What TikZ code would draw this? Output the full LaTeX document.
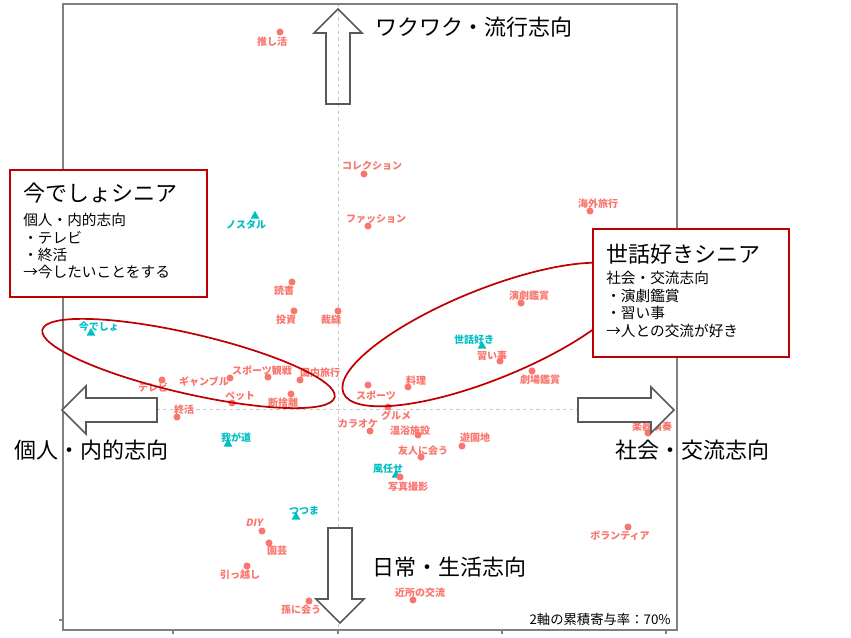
\documentclass[tikz,border=0pt]{standalone}
\usepackage{fontspec}
\setmainfont{Noto Sans CJK JP}
\newfontfamily\jp{Noto Sans CJK JP}
\newfontfamily\jpit[FakeSlant=0.2]{Noto Sans CJK JP}
\usetikzlibrary{shapes.geometric}
\definecolor{ptc}{HTML}{F8766D}
\definecolor{trc}{HTML}{00BFC4}
\definecolor{boxred}{HTML}{C00000}
\definecolor{arrgray}{HTML}{595959}
\definecolor{panelgray}{HTML}{808080}
\definecolor{dashgray}{HTML}{C8C8C8}
\tikzset{
  dot/.style={circle, fill=ptc, inner sep=0pt, minimum size=5.3pt},
  tri/.style={regular polygon, regular polygon sides=3, fill=trc, inner sep=0pt, minimum size=7.6pt},
  lab/.style={text=ptc, font=\jp\fontsize{7.5}{8}\selectfont\bfseries, inner sep=0pt},
  tlab/.style={text=trc, font=\jp\fontsize{7.5}{8}\selectfont\bfseries, inner sep=0pt},
  bigarrow/.style={draw=arrgray, line width=1.2pt, line join=miter},
  axtext/.style={font=\jp\fontsize{16.5}{18}\selectfont, anchor=west, inner sep=0pt, text=black},
  boxframe/.style={draw=boxred, line width=1.2pt, fill=white},
  boxtitle/.style={font=\jp\fontsize{16.5}{18}\selectfont, anchor=west, inner sep=0pt},
  boxline/.style={font=\jp\fontsize{11}{12}\selectfont, anchor=west, inner sep=0pt},
  grp/.style={draw=boxred, line width=1.3pt},
  guide/.style={draw=dashgray, line width=0.6pt, dash pattern=on 2.5pt off 2.5pt}
}
\begin{document}
\begin{tikzpicture}[x=0.75pt,y=-0.75pt]
\useasboundingbox (0,0) rectangle (851,637);
% panel
\coordinate (vtop) at (338,4);
\coordinate (vbot) at (338,630);
\coordinate (hl) at (63,409);
\coordinate (hr) at (677,409);
\draw[guide] (vtop) -- (vbot);
\draw[guide] (hl) -- (hr);
\draw[panelgray, line width=0.9pt] (63,4) rectangle (677,630);
\foreach \tx in {173,338,502,666} {\draw[panelgray, line width=0.9pt] (\tx,630) -- (\tx,634);}
\draw[panelgray, line width=0.9pt] (59,620) -- (63,620);

% points
\node[dot] (oshi) at (280,32) {};
\node[dot] (coll) at (364,174) {};
\node[dot] (fash) at (368,226) {};
\node[tri] (nost) at (255,216) {};
\node[dot] (doku) at (292,282) {};
\node[dot] (toushi) at (294,311) {};
\node[dot] (saihou) at (338,311) {};
\node[dot] (kaigai) at (590,211) {};
\node[dot] (engeki) at (521,303) {};
\node[tri] (sewa) at (482,346) {};
\node[dot] (narai) at (500,361) {};
\node[dot] (gekijo) at (532,371) {};
\node[dot] (ryori) at (408,387) {};
\node[dot] (sports) at (368,385) {};
\node[dot] (gurume) at (388,407) {};
\node[dot] (karaoke) at (370,431) {};
\node[dot] (onyoku) at (418,435) {};
\node[dot] (yuuen) at (462,446) {};
\node[dot] (yujin) at (421,457) {};
\node[tri] (kaze) at (396,475) {};
\node[dot] (shashin) at (400,477) {};
\node[dot] (gakki) at (648,433) {};
\node[dot] (vol) at (628,527) {};
\node[dot] (kinjo) at (413,600) {};
\node[dot] (mago) at (309,601) {};
\node[dot] (hikkoshi) at (247,566) {};
\node[dot] (engei) at (269,543) {};
\node[dot] (diy) at (262,531) {};
\node[tri] (tsuma) at (296,517) {};
\node[tri] (waga) at (228,444) {};
\node[dot] (shukatsu) at (177,417) {};
\node[dot] (tv) at (162,380) {};
\node[dot] (gamble) at (230,378) {};
\node[dot] (sportsk) at (268,377) {};
\node[dot] (kokunai) at (300,380) {};
\node[dot] (pet) at (232,403) {};
\node[dot] (danshari) at (291,394) {};
\node[tri] (imadesho) at (91,333) {};

% labels
\node[lab] (loshi) at (272,42) {推し活};
\node[lab] (lcoll) at (372,166) {コレクション};
\node[lab] (lfash) at (376,219) {ファッション};
\node[tlab] (lnost) at (246,225) {ノスタル};
\node[lab] (ldoku) at (284,291) {読書};
\node[lab] (ltoushi) at (286,320) {投資};
\node[lab] (lsaihou) at (331,320) {裁縫};
\node[lab] (lkaigai) at (598,204) {海外旅行};
\node[lab] (lengeki) at (529,296) {演劇鑑賞};
\node[tlab] (lsewa) at (474,340) {世話好き};
\node[lab] (lnarai) at (492,356) {習い事};
\node[lab] (lgekijo) at (540,380) {劇場鑑賞};
\node[lab] (lryori) at (416,381) {料理};
\node[lab] (lsports) at (376,395) {スポーツ};
\node[lab] (lgurume) at (396,416) {グルメ};
\node[lab] (lkaraoke) at (358,424) {カラオケ};
\node[lab] (lonyoku) at (410,431) {温浴施設};
\node[lab] (lyuuen) at (475,438) {遊園地};
\node[lab] (lyujin) at (423,451) {友人に会う};
\node[tlab] (lkaze) at (388,469) {風任せ};
\node[lab] (lshashin) at (408,487) {写真撮影};
\node[lab] (lgakki) at (652,427) {楽器演奏};
\node[lab] (lvol) at (620,536) {ボランティア};
\node[lab] (lkinjo) at (420,593) {近所の交流};
\node[lab] (lmago) at (301,610) {孫に会う};
\node[lab] (lhikkoshi) at (240,575) {引っ越し};
\node[lab] (lengei) at (277,551) {園芸};
\node[lab, font=\jpit\fontsize{7.5}{8}\selectfont\bfseries] (ldiy) at (254,523) {DIY};
\node[tlab] (ltsuma) at (304,511) {つつま};
\node[tlab] (lwaga) at (236,438) {我が道};
\node[lab] (lshukatsu) at (184,410) {終活};
\node[lab] (ltv) at (153,388) {テレビ};
\node[lab] (lgamble) at (204,382) {ギャンブル};
\node[lab] (lsportsk) at (262,371) {スポーツ観戦};
\node[lab] (lkokunai) at (320,373) {国内旅行};
\node[lab] (lpet) at (240,396) {ペット};
\node[lab] (ldanshari) at (283,403) {断捨離};
\node[tlab] (limadesho) at (99,327) {今でしょ};

% group ellipses
\coordinate (e1) at (188.5,363.5);
\coordinate (e2) at (488,334.5);
\draw[grp, rotate around={-13:(e1)}] (e1) ellipse [x radius=112.5pt, y radius=22.5pt];
\draw[grp, rotate around={22:(e2)}] (e2) ellipse [x radius=117pt, y radius=33.75pt];

% big arrows
\draw[bigarrow] (338,9) -- (362,33) -- (350,33) -- (350,104) -- (326,104) -- (326,33) -- (314,33) -- cycle;
\draw[bigarrow, fill=white] (340,623) -- (364,599) -- (352,599) -- (352,528) -- (328,528) -- (328,599) -- (316,599) -- cycle;
\draw[bigarrow, fill=white] (62,410) -- (86,386) -- (86,398) -- (157,398) -- (157,422) -- (86,422) -- (86,434) -- cycle;
\draw[bigarrow, fill=white] (674,410) -- (651,387) -- (651,398) -- (578,398) -- (578,422) -- (651,422) -- (651,433) -- cycle;

% axis texts
\node[axtext] (ttop) at (375,27) {ワクワク・流行志向};
\node[axtext] (tleft) at (14,450) {個人・内的志向};
\node[axtext] (tright) at (615,450) {社会・交流志向};
\node[axtext] (tbottom) at (372,567) {日常・生活志向};

% boxes
\draw[boxframe] (10,170) rectangle (207,297);
\node[boxtitle] (b1t) at (23,193) {今でしょシニア};
\node[boxline] (b1a) at (23,220) {個人・内的志向};
\node[boxline] (b1b) at (23,238) {・テレビ};
\node[boxline] (b1c) at (23,255) {・終活};
\node[boxline] (b1d) at (23,272) {→今したいことをする};

\draw[boxframe] (593,229) rectangle (789,357);
\node[boxtitle] (b2t) at (606,254) {世話好きシニア};
\node[boxline] (b2a) at (606,278) {社会・交流志向};
\node[boxline] (b2b) at (606,296) {・演劇鑑賞};
\node[boxline] (b2c) at (606,313) {・習い事};
\node[boxline] (b2d) at (606,331) {→人との交流が好き};

% caption
\node[font=\jp\fontsize{10}{11}\selectfont, anchor=east, inner sep=0pt] (cap) at (671,619) {2軸の累積寄与率：70\%};
\end{tikzpicture}
\end{document}
